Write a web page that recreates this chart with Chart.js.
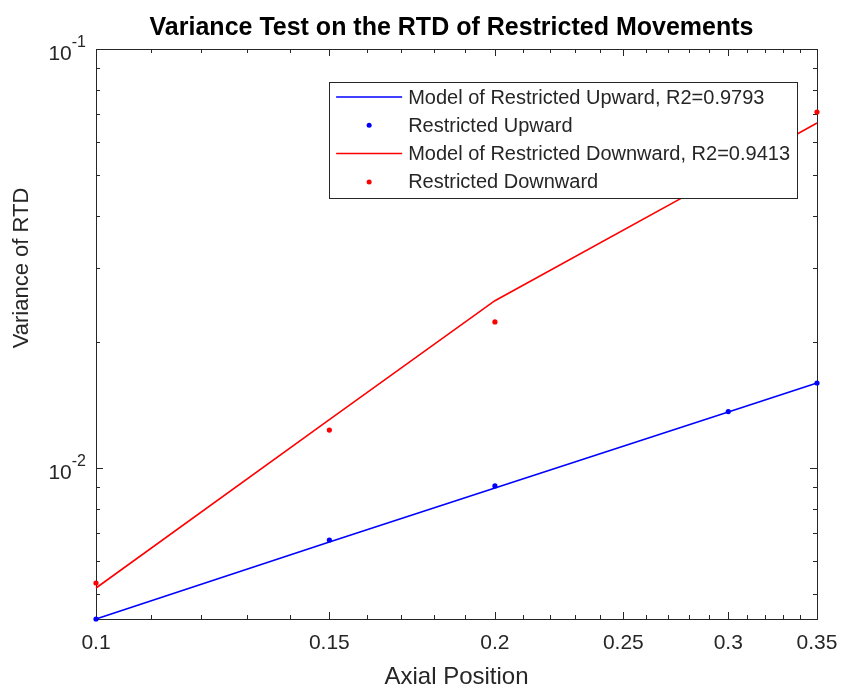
<!DOCTYPE html>
<html>
<head>
<meta charset="utf-8">
<script src="https://cdn.jsdelivr.net/npm/chart.js@4.4.1/dist/chart.umd.min.js"></script>
<style>
  html, body { margin: 0; padding: 0; background: #fff; }
  #wrap { width: 844px; height: 689px; }
</style>
</head>
<body>
<div id="wrap"><canvas id="varChart" width="844" height="689"></canvas></div>
<script>
// data
const axialPos = [0.1, 0.15, 0.2, 0.3, 0.35];
const upModel = [0.004361, 0.006658, 0.008962, 0.013603, 0.015955];
const upData = [0.004361, 0.006732, 0.009059, 0.013637, 0.015955];
const downModel = [0.005171, 0.01304, 0.02508, 0.05075, 0.0666];
const downData = [0.005315, 0.01232, 0.02231, 0.048, 0.07073];

const xTicks = [0.1, 0.15, 0.2, 0.25, 0.3, 0.35];
const yTicks = [0.01, 0.1];
const yTickLabels = [['10', '-2'], ['10', '-1']];
const yMin = 0.004361, yMax = 0.1;

const AX = '#262626';
const FONT = "'Liberation Sans', Arial, Helvetica, sans-serif";

const pts = arr => arr.map((v, i) => ({ x: axialPos[i], y: v }));

// matlab-like box, inward ticks, y labels with exponent, title, legend
const matlabAxes = {
  id: 'matlabAxes',
  beforeDatasetsDraw(chart) {
    const { ctx, chartArea: a, scales: { x, y } } = chart;
    ctx.save();
    ctx.strokeStyle = AX;
    ctx.lineWidth = 1;
    ctx.strokeRect(Math.round(a.left) + 0.5, Math.round(a.top) + 0.5,
      Math.round(a.right - a.left), Math.round(a.bottom - a.top));

    const tick = (px, len, horiz) => {
      px = Math.round(px) + 0.5;
      ctx.beginPath();
      if (horiz) {
        ctx.moveTo(px, a.bottom); ctx.lineTo(px, a.bottom - len);
        ctx.moveTo(px, a.top); ctx.lineTo(px, a.top + len);
      } else {
        ctx.moveTo(a.left, px); ctx.lineTo(a.left + len, px);
        ctx.moveTo(a.right, px); ctx.lineTo(a.right - len, px);
      }
      ctx.stroke();
    };
    // x minor ticks every 0.01
    for (let k = 11; k < 35; k++) {
      if (k % 5 !== 0) tick(x.getPixelForValue(k / 100), 4, true);
    }
    xTicks.forEach(v => tick(x.getPixelForValue(v), 7, true));
    // y minor ticks
    for (let e = -3; e <= -2; e++) {
      for (let m = 2; m <= 9; m++) {
        const v = m * Math.pow(10, e);
        if (v > yMin && v < yMax) tick(y.getPixelForValue(v), 4, false);
      }
    }
    yTicks.forEach(v => tick(y.getPixelForValue(v), 7, false));

    // y labels 10^n
    ctx.fillStyle = AX;
    ctx.textBaseline = 'middle';
    ctx.textAlign = 'right';
    yTicks.forEach((v, i) => {
      const py = y.getPixelForValue(v);
      const [base, exp] = yTickLabels[i];
      const rx = a.left - 10;
      ctx.font = '16px ' + FONT;
      const w = ctx.measureText(exp).width;
      ctx.fillText(exp, rx, py - 6);
      ctx.font = '21px ' + FONT;
      ctx.fillText(base, rx - w, py + 5);
    });

    // y axis label
    ctx.save();
    ctx.translate(22, 268);
    ctx.rotate(-Math.PI / 2);
    ctx.textAlign = 'center';
    ctx.font = '22px ' + FONT;
    ctx.fillText('Variance of RTD', 0, 0);
    ctx.restore();

    // title
    ctx.fillStyle = '#000';
    ctx.textAlign = 'center';
    ctx.font = 'bold 25px ' + FONT;
    ctx.fillText('Variance Test on the RTD of Restricted Movements', (a.left + a.right) / 2 - 5, 28);
    ctx.restore();
  },
  afterDatasetsDraw(chart) {
    const { ctx, chartArea: a } = chart;
    const sets = chart.data.datasets;
    ctx.save();
    ctx.font = '20px ' + FONT;
    const maxW = Math.max(...sets.map(d => ctx.measureText(d.label).width));
    const right = a.right - 20, top = a.top + 33;
    const left = right - (78 + maxW + 8);
    const rowH = 28.3;
    const h = rowH * sets.length + 3;
    ctx.fillStyle = '#fff';
    ctx.fillRect(left, top, right - left, h);
    ctx.strokeStyle = AX;
    ctx.lineWidth = 1;
    ctx.strokeRect(Math.round(left) + 0.5, Math.round(top) + 0.5, Math.round(right - left), Math.round(h));
    ctx.textAlign = 'left';
    ctx.textBaseline = 'middle';
    sets.forEach((d, i) => {
      const cy = top + 15 + i * rowH;
      if (d.showLine === false) {
        ctx.fillStyle = d.pointBackgroundColor;
        ctx.beginPath();
        ctx.arc(left + 40, cy, 2.5, 0, Math.PI * 2);
        ctx.fill();
      } else {
        ctx.strokeStyle = d.borderColor;
        ctx.lineWidth = 1.5;
        ctx.beginPath();
        ctx.moveTo(left + 7, cy); ctx.lineTo(left + 73, cy);
        ctx.stroke();
      }
      ctx.fillStyle = AX;
      ctx.fillText(d.label, left + 79, cy + 1);
    });
    ctx.restore();
  }
};

const lineSet = (label, data, color) => ({
  label, data: pts(data), borderColor: color, backgroundColor: color,
  borderWidth: 1.6, pointRadius: 0, tension: 0, clip: false
});
const dotSet = (label, data, color) => ({
  label, data: pts(data), showLine: false, borderColor: color,
  pointBackgroundColor: color, pointBorderWidth: 0, pointRadius: 2.6, clip: false
});

new Chart(document.getElementById('varChart'), {
  type: 'line',
  data: {
    datasets: [
      lineSet('Model of Restricted Upward, R2=0.9793', upModel, '#0000ff'),
      dotSet('Restricted Upward', upData, '#0000ff'),
      lineSet('Model of Restricted Downward, R2=0.9413', downModel, '#ff0000'),
      dotSet('Restricted Downward', downData, '#ff0000')
    ]
  },
  options: {
    responsive: false,
    animation: false,
    events: [],
    layout: { padding: { top: 49, right: 27, left: 0, bottom: 0 } },
    plugins: { legend: { display: false }, tooltip: { enabled: false } },
    scales: {
      x: {
        type: 'logarithmic',
        min: 0.1,
        max: 0.35,
        afterBuildTicks: s => { s.ticks = xTicks.map(v => ({ value: v })); },
        afterFit: s => { s.height = 70; s.paddingLeft = 0; s.paddingRight = 0; },
        grid: { display: false, drawTicks: false },
        border: { display: false },
        ticks: {
          autoSkip: false, maxRotation: 0, padding: 12, color: AX,
          font: { family: FONT, size: 21 },
          callback: v => String(v)
        },
        title: {
          display: true, text: 'Axial Position', color: AX,
          font: { family: FONT, size: 24, lineHeight: 1 }, padding: { top: 0, bottom: 0 }
        }
      },
      y: {
        type: 'logarithmic',
        min: yMin,
        max: yMax,
        afterFit: s => { s.width = 96; },
        grid: { display: false, drawTicks: false },
        border: { display: false },
        ticks: { display: false },
        title: { display: false }
      }
    }
  },
  plugins: [matlabAxes]
});
</script>
</body>
</html>
